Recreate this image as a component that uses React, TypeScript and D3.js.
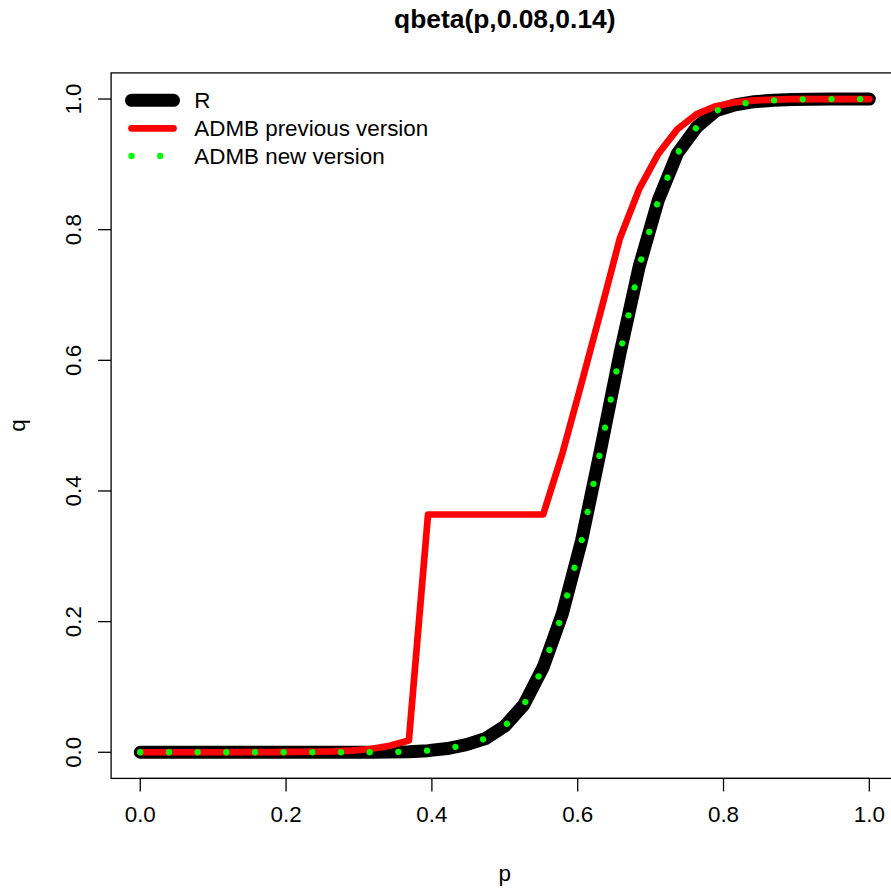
import React from "react";
import * as d3 from "d3";

// p grid (39 points) and the quantiles
const pValues = [
  0, 0.0263, 0.0526, 0.0789, 0.1053, 0.1316, 0.1579, 0.1842, 0.2105, 0.2368,
  0.2632, 0.2895, 0.3158, 0.3421, 0.3684, 0.3947, 0.4211, 0.4474, 0.4737, 0.5,
  0.5263, 0.5526, 0.5789, 0.6053, 0.6316, 0.6579, 0.6842, 0.7105, 0.7368, 0.7632,
  0.7895, 0.8158, 0.8421, 0.8684, 0.8947, 0.9211, 0.9474, 0.9737, 1,
];

const qR = [
  0, 0, 0, 0, 0, 0, 0, 0, 0.00001, 0.00002, 0.00004, 0.00008, 0.00015, 0.0003,
  0.0009, 0.0025, 0.0057, 0.0117, 0.021, 0.04, 0.073, 0.13, 0.212, 0.324, 0.464,
  0.61, 0.743, 0.845, 0.917, 0.957, 0.982, 0.991, 0.996, 0.998, 0.9993, 0.9998,
  1, 1, 1,
];

const qOld = [
  0, 0, 0, 0, 0, 0.0001, 0.0002, 0.0003, 0.0005, 0.0008, 0.0013, 0.0025, 0.005,
  0.01, 0.018, 0.364, 0.364, 0.364, 0.364, 0.364, 0.364, 0.364, 0.457, 0.565,
  0.675, 0.787, 0.862, 0.916, 0.954, 0.977, 0.989, 0.995, 0.998, 0.999, 1, 1, 1,
  1, 1,
];

const qNew = [
  0, 0, 0, 0, 0, 0, 0, 0, 0.00001, 0.00002, 0.00004, 0.00008, 0.00015, 0.0003,
  0.0009, 0.0025, 0.0057, 0.0117, 0.021, 0.04, 0.073, 0.13, 0.212, 0.324, 0.464,
  0.61, 0.743, 0.845, 0.917, 0.957, 0.982, 0.991, 0.996, 0.998, 0.9993, 0.9998,
  1, 1, 1,
];

const xTicks = [0, 0.2, 0.4, 0.6, 0.8, 1.0];
const yTicks = [0, 0.2, 0.4, 0.6, 0.8, 1.0];
const legendLabels = ["R", "ADMB previous version", "ADMB new version"];

const W = 891;
const H = 892;
const FONT = "'Liberation Sans', Arial, Helvetica, sans-serif";
const FS = 22.4;

export default function App() {
  // R style: usr range extended 4% on each side
  const x = d3.scaleLinear().domain([-0.04, 1.04]).range([111.1, 898.5]);
  const y = d3.scaleLinear().domain([-0.04, 1.04]).range([778.4, 72.9]);

  const makeLine = (qs: number[]) =>
    d3
      .line<number>()
      .x((_, i) => x(pValues[i]))
      .y((d) => y(d))(qs) || "";

  const left = x(-0.04);
  const right = x(1.04);
  const top = y(1.04);
  const bottom = y(-0.04);

  const legendY = [100.3, 128.3, 156];
  const lx0 = 131.5;
  const lx1 = 173.5;

  return (
    <svg
      width={W}
      height={H}
      style={{ position: "absolute", left: 0, top: 0, background: "#fff" }}
      fontFamily={FONT}
    >
      <rect x={0} y={0} width={W} height={H} fill="#fff" />

      {/* title */}
      <text
        x={(left + right) / 2}
        y={28}
        textAnchor="middle"
        fontWeight="bold"
        fontSize={26.4}
      >
        qbeta(p,0.08,0.14)
      </text>

      {/* data lines */}
      <path
        d={makeLine(qR)}
        fill="none"
        stroke="#000"
        strokeWidth={13}
        strokeLinecap="round"
        strokeLinejoin="round"
      />
      <path
        d={makeLine(qOld)}
        fill="none"
        stroke="#ff0000"
        strokeWidth={6.7}
        strokeLinecap="round"
        strokeLinejoin="round"
      />
      <path
        d={makeLine(qNew)}
        fill="none"
        stroke="#00ff00"
        strokeWidth={6.3}
        strokeLinecap="round"
        strokeDasharray="0.01 28.67"
      />

      {/* box */}
      <rect
        x={left}
        y={top}
        width={right - left}
        height={bottom - top}
        fill="none"
        stroke="#000"
        strokeWidth={1.3}
      />

      {/* x axis */}
      <line
        x1={x(xTicks[0])}
        x2={x(xTicks[xTicks.length - 1])}
        y1={bottom}
        y2={bottom}
        stroke="#000"
        strokeWidth={1.3}
      />
      {xTicks.map((t) => (
        <g key={"x" + t}>
          <line x1={x(t)} x2={x(t)} y1={bottom} y2={bottom + 13} stroke="#000" strokeWidth={1.3} />
          <text x={x(t)} y={822} textAnchor="middle" fontSize={FS}>
            {t.toFixed(1)}
          </text>
        </g>
      ))}
      <text x={(left + right) / 2} y={881} textAnchor="middle" fontSize={FS}>
        p
      </text>

      {/* y axis */}
      {yTicks.map((t) => (
        <g key={"y" + t}>
          <line x1={left} x2={left - 13} y1={y(t)} y2={y(t)} stroke="#000" strokeWidth={1.3} />
          <text
            transform={`translate(${81},${y(t)}) rotate(-90)`}
            textAnchor="middle"
            fontSize={FS}
          >
            {t.toFixed(1)}
          </text>
        </g>
      ))}
      <text
        transform={`translate(${25},${(top + bottom) / 2}) rotate(-90)`}
        textAnchor="middle"
        fontSize={FS}
      >
        q
      </text>

      {/* legend */}
      <line x1={lx0} x2={lx1} y1={legendY[0]} y2={legendY[0]} stroke="#000" strokeWidth={13} strokeLinecap="round" />
      <line x1={lx0} x2={lx1} y1={legendY[1]} y2={legendY[1]} stroke="#ff0000" strokeWidth={6.7} strokeLinecap="round" />
      <line
        x1={lx0}
        x2={lx1}
        y1={legendY[2]}
        y2={legendY[2]}
        stroke="#00ff00"
        strokeWidth={6.3}
        strokeLinecap="round"
        strokeDasharray="0.01 28.67"
      />
      {legendLabels.map((l, i) => (
        <text key={l} x={194.3} y={legendY[i] + 8} fontSize={FS}>
          {l}
        </text>
      ))}
    </svg>
  );
}
